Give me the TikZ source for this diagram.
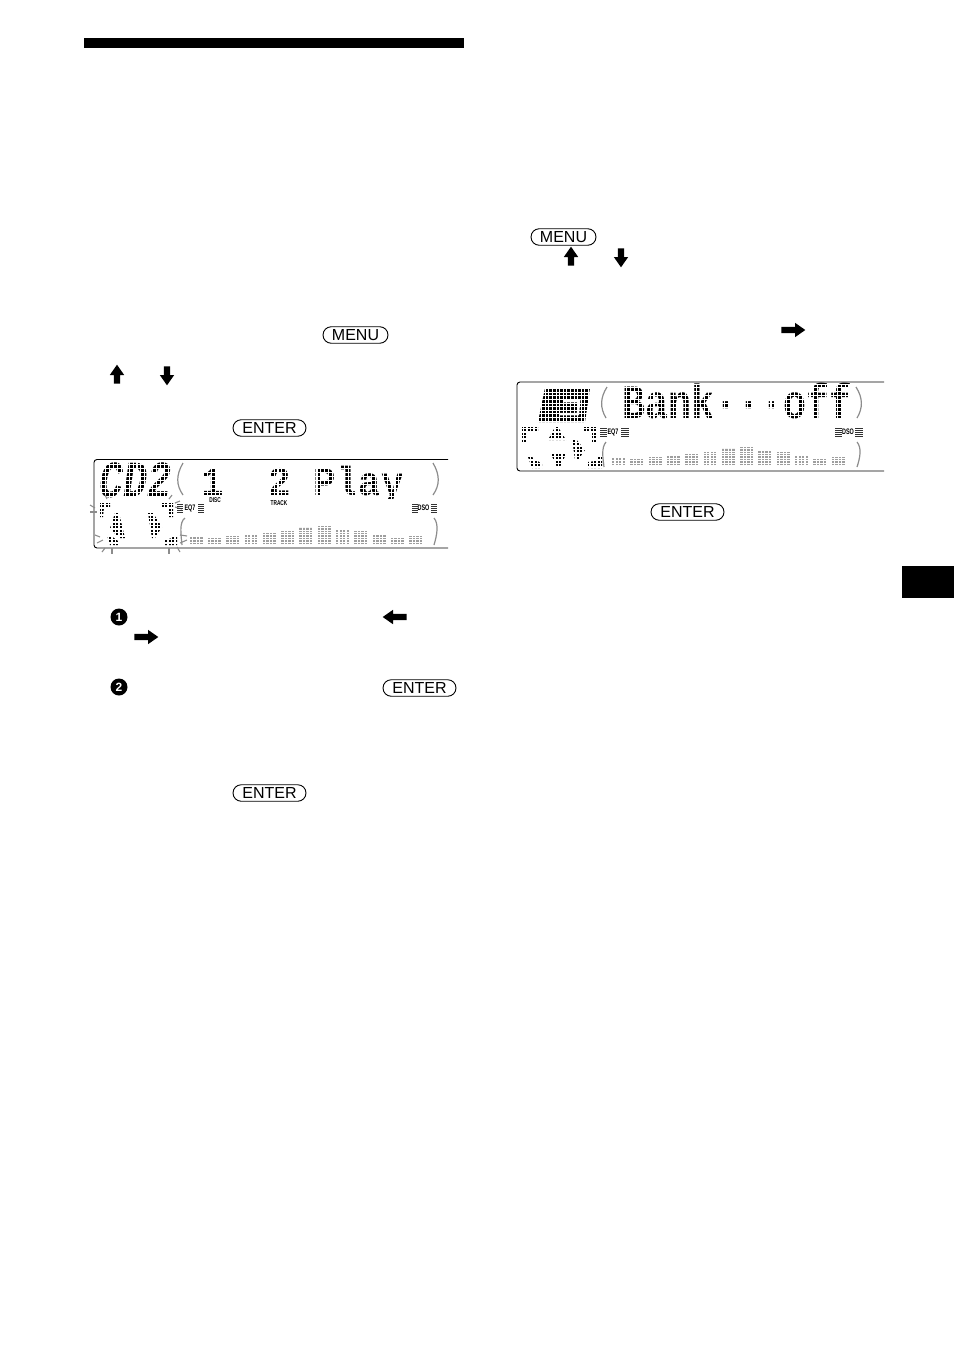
\documentclass[tikz,border=0pt]{standalone}
\usepackage{fontspec}
\usetikzlibrary{shapes.misc,shapes.arrows}
\newfontfamily\lcdfont{Liberation Mono}
\newfontfamily\keyfont{Liberation Sans}
\definecolor{lcdgray}{gray}{0.55}
\definecolor{bargray}{gray}{0.62}
\newcommand{\lcdmask}[6]{
	\begin{scope}
		\clip (#1,#2) rectangle (#3,#4);
		\foreach \i in {0,...,62} {\draw[white, line width=#6pt] ({#1+\i*#5},#2-2) -- ({#1+\i*#5},#4+2);}
		\foreach \i in {0,...,22} {\draw[white, line width=#6pt] (#1,{#2+\i*#5}) -- (#3,{#2+\i*#5});}
	\end{scope}
}
\newcommand{\lcdbars}[2]{
	\foreach \h [count=\n from 0] in {7,6,8,9,11,13,17,18,14,13,9,6,8} {
		\foreach \c in {0,1,2,3} {\draw[bargray, line width=2.4pt, dash pattern=on 1pt off .7pt] ({#1+\n*18.3+1.5+\c*3.5},#2) -- ++(0,-\h);}
	}
}
\newcommand{\eqlines}[3]{
	\foreach \k in {0,1,2,3,4} {\draw[black!80, line width=.7pt] (#1,{#2-4+\k*2}) -- ++(#3,0);}
}
\begin{document}
\begin{tikzpicture}[x=1pt, y=-1pt,
	btn/.style={draw, line width=.9pt, rounded rectangle, inner sep=0pt, minimum height=16.5pt, font=\keyfont\fontsize{16}{16}\selectfont},
	padarrow/.style={single arrow, fill=black, inner sep=3pt, minimum width=14pt, single arrow head extend=4pt, single arrow tip angle=70},
	stepnum/.style={circle, fill=black, text=white, inner sep=0pt, minimum size=17pt, font=\keyfont\bfseries\fontsize{12}{12}\selectfont},
	lcdtext/.style={anchor=base west, inner sep=0pt, transform shape},
	tagtext/.style={inner sep=0pt, transform shape, xscale=.68, font=\keyfont\bfseries\fontsize{#1}{#1}\selectfont},
	lcdmark/.style={fill=black}, raymark/.style={lcdgray, line width=1.1pt}, brace/.style={lcdgray, line width=1.2pt}]
	\useasboundingbox (0,0) rectangle (954,1352);
	\fill (84,38) rectangle (464,48);
	\fill (902,566) rectangle (954,598);
	\node[btn, minimum width=65pt] (menua) at (355.5,335) {MENU};
	\node[btn, minimum width=73pt] (entera) at (269.5,428) {ENTER};
	\node[btn, minimum width=73pt] (enterb) at (419.5,688) {ENTER};
	\node[btn, minimum width=73pt] (enterc) at (269.5,793) {ENTER};
	\node[btn, minimum width=65pt] (menub) at (563.5,237) {MENU};
	\node[btn, minimum width=73pt] (enterd) at (687.5,512) {ENTER};
	\node[padarrow, minimum height=19pt, shape border rotate=90] (upa) at (117,376.5) {};
	\node[padarrow, minimum height=19pt, shape border rotate=270] (downa) at (167,373.5) {};
	\node[padarrow, minimum height=19pt, shape border rotate=90] (upb) at (571,258.5) {};
	\node[padarrow, minimum height=19pt, shape border rotate=270] (downb) at (621,255.5) {};
	\node[padarrow, minimum height=24pt] (rightb) at (791,330) {};
	\node[padarrow, minimum height=24pt, shape border rotate=180] (lefta) at (397,617) {};
	\node[padarrow, minimum height=24pt] (righta) at (144,637) {};
	\node[stepnum] (stepone) at (119,617) {1};
	\node[stepnum] (steptwo) at (119,687) {2};

	\begin{scope}
		\clip (95,461) rectangle (420,499.5);
		\node[lcdtext, font=\lcdfont\bfseries\itshape\fontsize{40}{40}\selectfont, yscale=1.3] (cdname) at (99,497) {CD2};
		\node[lcdtext, font=\lcdfont\bfseries\fontsize{37.5}{37.5}\selectfont, yscale=1.08] (playline) at (201,495) {1~~2~Play};
	\end{scope}
	\fill[lcdmark] (100,503) -- (110,503) -- (110,507) -- (104,507) -- (103,517) -- (100,517) -- cycle;
	\fill[lcdmark] (162,503) -- (173,503) -- (173,517) -- (169,517) -- (169,507) -- (162,507) -- cycle;
	\fill[lcdmark] (115,513) -- (119,513) -- (125,538) -- (119,538) -- (110,528) -- cycle;
	\fill[lcdmark] (148,513) -- (153,513) -- (162,527) -- (155,538) -- (152,538) -- cycle;
	\fill[lcdmark] (107,535) -- (110,535) -- (118,541) -- (118,545) -- (110,545) -- cycle;
	\fill[lcdmark] (165,540) -- (172,538) -- (173,535) -- (177,535) -- (177,545) -- (165,545) -- cycle;
	\lcdmask{98}{461}{178}{500}{3.9}{1.1}
	\lcdmask{98}{501}{178}{547}{3.5}{1.05}
	\lcdmask{200}{461}{410}{500}{3.9}{1.1}
	\draw[line width=.9pt, rounded corners=3pt] (448,459.5) -| (94,548) -- (448,548);
	\foreach \xa/\ya/\xb/\yb in {90/505/95/508, 90/512/97/512, 175/503/180/501, 175/507/182/509, 95/535/100/537, 97/543/103/540, 102/552/105/548, 112/548/112/554, 169/548/169/554, 177/547/180/552, 180/535/187/536, 180/543/187/540, 105/495/107/499, 172/495/169/499}
		\draw[raymark] (\xa,\ya) -- (\xb,\yb);
	\draw[brace] (183,463) .. controls (176,475) and (176,485) .. (183,495);
	\draw[brace] (433,463) .. controls (440,475) and (440,485) .. (433,495);
	\draw[brace] (185,518) .. controls (179,522) and (181,535) .. (182,545);
	\draw[brace] (434,518) .. controls (439,524) and (437,535) .. (434,545);
	\lcdbars{189.3}{544}
	\node[tagtext=7] (disc) at (215,500.5) {DISC};
	\node[tagtext=7] (track) at (279,503) {TRACK};
	\node[tagtext=8] (eqa) at (190,508) {EQ7};
	\node[tagtext=8] (dsoa) at (423.5,508) {DSO};
	\eqlines{177}{508}{6}
	\eqlines{198}{508}{6}
	\eqlines{412}{508}{6}
	\eqlines{431}{508}{6}

	\fill[lcdmark] (545,388) -- (590,388) -- (585,422) -- (538,422) -- cycle;
	\draw[white, line width=2.5pt] (563,401) -- (579,401) -- (578,414) -- (560,414);
	\node[lcdtext, font=\lcdfont\bfseries\fontsize{38.3}{38.3}\selectfont, yscale=1.25] (bankline) at (622,418) {Bank···off};
	\fill[lcdmark] (522,427) -- (538,427) -- (538,432) -- (527,432) -- (527,442) -- (522,442) -- cycle;
	\fill[lcdmark] (583,427) -- (597,427) -- (597,442) -- (592,442) -- (592,432) -- (583,432) -- cycle;
	\fill[lcdmark] (555,427) -- (558,427) -- (566,440) -- (548,440) -- cycle;
	\fill[lcdmark] (572,438) -- (575,438) -- (585,450) -- (578,460) -- (575,460) -- cycle;
	\fill[lcdmark] (550,452) -- (567,452) -- (560,467) -- (557,467) -- cycle;
	\fill[lcdmark] (528,457) -- (532,457) -- (542,464) -- (542,468) -- (532,468) -- cycle;
	\fill[lcdmark] (588,462) -- (595,461) -- (597,457) -- (602,457) -- (602,468) -- (588,468) -- cycle;
	\lcdmask{520}{385}{596}{424}{3.6}{.8}
	\lcdmask{520}{425}{604}{470}{3.5}{1.05}
	\lcdmask{615}{384}{856}{421}{3.9}{1.1}
	\draw[line width=.9pt, rounded corners=3pt] (884,382) -| (517,471) -- (884,471);
	\draw[brace] (607,387) .. controls (600,398) and (600,408) .. (606,418);
	\draw[brace] (856,387) .. controls (863,398) and (863,408) .. (857,418);
	\draw[brace] (606,442) .. controls (601,448) and (603,458) .. (604,467);
	\draw[brace] (857,442) .. controls (862,448) and (860,458) .. (857,467);
	\lcdbars{611.7}{465}
	\node[tagtext=8] (eqb) at (613,432) {EQ7};
	\node[tagtext=8] (dsob) at (848,432) {DSO};
	\eqlines{600}{432}{7}
	\eqlines{621}{432}{8}
	\eqlines{835}{432}{7}
	\eqlines{855}{432}{8}
\end{tikzpicture}
\end{document}
